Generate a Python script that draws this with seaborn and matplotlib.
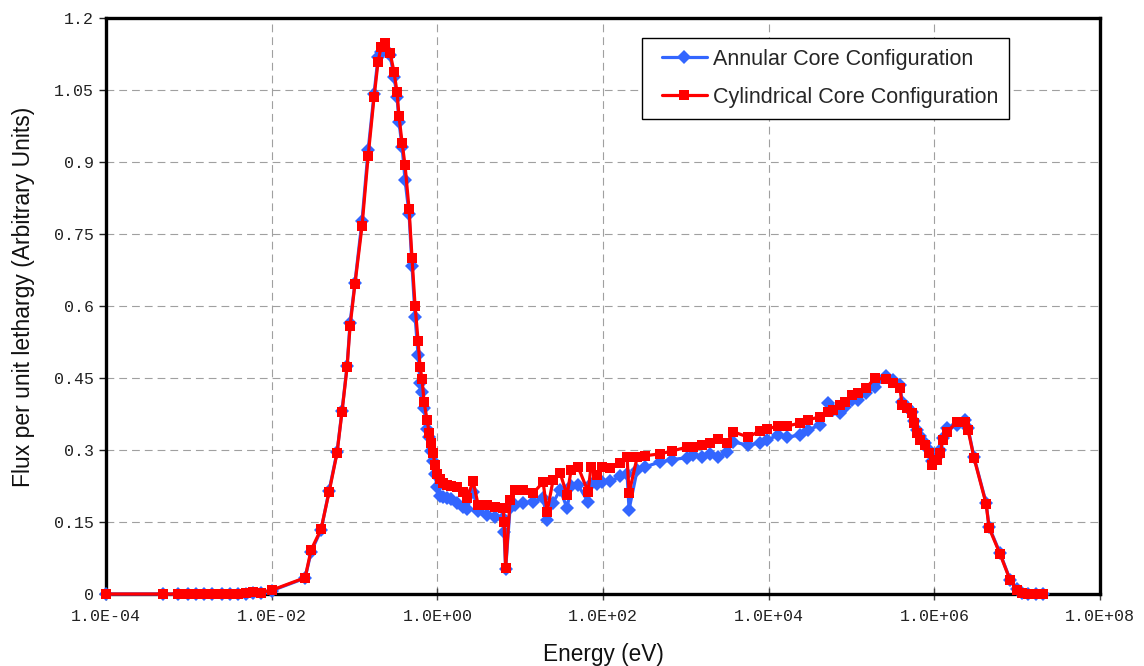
import matplotlib
matplotlib.use("Agg")
import matplotlib.pyplot as plt
from matplotlib.ticker import FixedLocator, FuncFormatter, NullLocator
from matplotlib.font_manager import FontProperties
from matplotlib.lines import Line2D
from matplotlib.legend_handler import HandlerLine2D
import numpy as np
import pandas as pd
import seaborn as sns

# Neutron energy group points (eV)
energy_ev = [
    1.0e-4, 4.88e-4, 7.40e-4, 9.77e-4, 1.22e-3, 1.52e-3, 1.91e-3, 2.51e-3, 3.14e-3, 3.93e-3,
    4.90e-3, 5.96e-3, 7.43e-3, 1.0e-2,
    2.53e-2, 2.99e-2, 3.94e-2, 4.92e-2, 6.15e-2, 7.06e-2, 8.13e-2, 8.83e-2, 0.101, 0.123,
    0.146, 0.172, 0.192, 0.209, 0.233, 0.268,
    0.300, 0.326, 0.344, 0.375, 0.407, 0.455, 0.494, 0.538, 0.585, 0.618,
    0.653, 0.690, 0.750, 0.794, 0.839, 0.887, 0.937, 0.991,
    1.08, 1.17, 1.31, 1.46, 1.73, 2.04, 2.28, 2.70, 3.10, 3.98,
    4.97, 6.21, 6.38, 6.67, 7.54,
    8.67, 10.8, 14.3, 18.9, 21.1, 24.9, 30.3, 36.8, 41.1, 49.9,
    65.9, 71.6, 84.7, 97.3, 122, 161, 195, 206, 258, 321,
    488, 681, 1033, 1222, 1567, 1959, 2449, 3141, 3715, 5636,
    7870, 9550, 1.30e4, 1.67e4, 2.39e4, 2.99e4, 4.17e4, 5.21e4, 5.98e4, 7.28e4,
    8.36e4, 1.01e5, 1.20e5, 1.50e5, 1.92e5, 2.61e5, 3.17e5, 3.85e5,
    4.07e5, 4.68e5, 5.38e5, 5.69e5, 6.18e5, 6.72e5, 7.73e5, 8.63e5, 9.38e5, 1.08e6,
    1.17e6, 1.27e6, 1.42e6, 1.88e6, 2.35e6, 2.55e6, 3.01e6,
    4.21e6, 4.57e6, 6.21e6, 8.20e6, 9.96e6, 1.15e7, 1.35e7, 1.69e7, 2.05e7,
]

# Flux per unit lethargy, annular core
flux_annular = [
    0, 0, 0, 0, 0, 0, 0, 0, 0, 0, 0.001, 0.003, 0.002, 0.007,
    0.033, 0.088, 0.133, 0.215, 0.296, 0.382, 0.476, 0.565, 0.648, 0.777,
    0.925, 1.042, 1.118, 1.130, 1.135, 1.122,
    1.078, 1.035, 0.983, 0.931, 0.862, 0.792, 0.683, 0.578, 0.497, 0.440,
    0.420, 0.388, 0.343, 0.327, 0.298, 0.278, 0.250, 0.223,
    0.205, 0.202, 0.200, 0.198, 0.190, 0.182, 0.178, 0.213, 0.172, 0.165,
    0.160, 0.158, 0.130, 0.052, 0.180,
    0.186, 0.190, 0.192, 0.200, 0.154, 0.190, 0.217, 0.179, 0.225, 0.227,
    0.192, 0.230, 0.230, 0.233, 0.235, 0.245, 0.250, 0.176, 0.258, 0.265,
    0.275, 0.280, 0.284, 0.290, 0.285, 0.292, 0.285, 0.296, 0.317, 0.310,
    0.315, 0.321, 0.331, 0.327, 0.331, 0.342, 0.352, 0.397, 0.383, 0.377,
    0.390, 0.404, 0.404, 0.419, 0.431, 0.454, 0.446, 0.435,
    0.400, 0.390, 0.380, 0.360, 0.342, 0.330, 0.315, 0.300, 0.278, 0.285,
    0.300, 0.325, 0.345, 0.352, 0.362, 0.345, 0.285,
    0.190, 0.140, 0.085, 0.030, 0.010, 0.003, 0, 0, 0,
]

# Flux per unit lethargy, cylindrical core
flux_cylindrical = [
    0, 0, 0, 0, 0, 0, 0, 0, 0, 0, 0.002, 0.004, 0.003, 0.008,
    0.034, 0.092, 0.135, 0.212, 0.294, 0.380, 0.473, 0.558, 0.645, 0.766,
    0.913, 1.035, 1.108, 1.140, 1.148, 1.128,
    1.087, 1.045, 0.995, 0.940, 0.893, 0.802, 0.700, 0.600, 0.527, 0.473,
    0.448, 0.400, 0.363, 0.336, 0.315, 0.294, 0.268, 0.250,
    0.240, 0.231, 0.228, 0.226, 0.222, 0.213, 0.200, 0.235, 0.186, 0.186,
    0.182, 0.179, 0.150, 0.055, 0.196,
    0.217, 0.217, 0.210, 0.233, 0.171, 0.237, 0.252, 0.206, 0.258, 0.265,
    0.213, 0.265, 0.248, 0.265, 0.263, 0.273, 0.285, 0.210, 0.285, 0.288,
    0.292, 0.298, 0.306, 0.306, 0.310, 0.315, 0.323, 0.315, 0.338, 0.327,
    0.340, 0.344, 0.350, 0.350, 0.356, 0.363, 0.369, 0.379, 0.383, 0.394,
    0.400, 0.415, 0.419, 0.429, 0.450, 0.447, 0.440, 0.429,
    0.394, 0.388, 0.377, 0.356, 0.335, 0.321, 0.310, 0.294, 0.269, 0.279,
    0.294, 0.321, 0.338, 0.358, 0.358, 0.342, 0.283,
    0.188, 0.138, 0.083, 0.029, 0.009, 0.003, 0, 0, 0,
]

series_names = ["Annular Core Configuration", "Cylindrical Core Configuration"]
x_ticks = [1e-4, 1e-2, 1e0, 1e2, 1e4, 1e6, 1e8]
y_ticks = [0, 0.15, 0.3, 0.45, 0.6, 0.75, 0.9, 1.05, 1.2]

sns.set_style("white")
plt.rcParams["font.family"] = ["Liberation Sans", "DejaVu Sans"]

df = pd.DataFrame({
    "energy": energy_ev * 2,
    "flux": flux_annular + flux_cylindrical,
    "config": [series_names[0]] * len(energy_ev) + [series_names[1]] * len(energy_ev),
})

fig = plt.figure(figsize=(11.44, 6.66), dpi=100)
ax = fig.add_axes([0.0927, 0.1081, 0.8689, 0.8649])

styles = {
    series_names[0]: dict(color="#3366FF", marker="D", markersize=7.0),
    series_names[1]: dict(color="#FF0000", marker="s", markersize=7.2),
}
for name in series_names:
    sub = df[df["config"] == name]
    st = styles[name]
    sns.lineplot(data=sub, x="energy", y="flux", ax=ax, estimator=None, sort=False,
                 color=st["color"], marker=st["marker"], markersize=st["markersize"],
                 markeredgewidth=0, markerfacecolor=st["color"],
                 linewidth=2.3, label=name, clip_on=False, zorder=3)

ax.set_xscale("log")
ax.set_xlim(1e-4, 1e8)
ax.set_ylim(0, 1.2)

mono = FontProperties(family="Liberation Mono", size=12)
ax.xaxis.set_major_locator(FixedLocator(x_ticks))
ax.xaxis.set_minor_locator(NullLocator())
ax.xaxis.set_major_formatter(FuncFormatter(lambda v, p: "1.0E%+03d" % int(round(np.log10(v)))))
ax.yaxis.set_major_locator(FixedLocator(y_ticks))
ax.yaxis.set_major_formatter(FuncFormatter(lambda v, p: "%g" % round(v, 2)))
for lab in ax.get_xticklabels() + ax.get_yticklabels():
    lab.set_fontproperties(mono)
    lab.set_color("#222222")

ax.tick_params(axis="x", direction="inout", length=9, width=1, color="#444444", pad=6, bottom=True)
ax.tick_params(axis="y", direction="out", length=5, width=1, color="#222222", pad=4, left=True)

ax.grid(True, color="#A0A0A0", linestyle=(0, (7, 4.5)), linewidth=0.8)
ax.set_axisbelow(True)

for sp in ax.spines.values():
    sp.set_visible(True)
    sp.set_color("black")
    sp.set_linewidth(2.4)

ax.set_xlabel("Energy (eV)", fontsize=16.3, labelpad=14, color="#111111")
ax.set_ylabel("Flux per unit lethargy (Arbitrary Units)", fontsize=16.5, color="#111111")
ax.yaxis.set_label_coords(-0.071, 0.515)

leg = ax.legend(loc="upper right", bbox_to_anchor=(0.9085, 0.9653), frameon=True,
                fancybox=False, edgecolor="black", framealpha=1,
                prop=FontProperties(family="Liberation Sans", size=15.5),
                handlelength=2.5, handletextpad=0.3, labelspacing=0.8, borderpad=0.5,
                borderaxespad=0, handler_map={Line2D: HandlerLine2D(xpad=0.45)})
leg.get_frame().set_linewidth(1.0)

fig.savefig("out.png", dpi=100)
